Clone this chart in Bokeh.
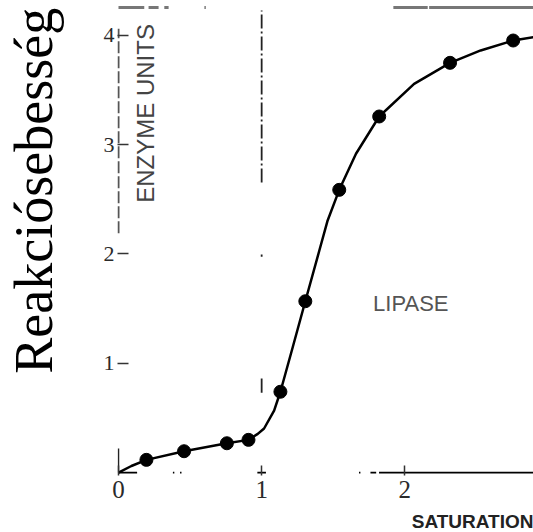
import numpy as np
from bokeh.plotting import figure
from bokeh.models import Range1d, FixedTicker, Title
from bokeh.core.properties import value
from bokeh.embed import file_html
from bokeh.resources import INLINE

# measured data points (saturation, reaction rate in enzyme units)
sat_pts = [0.195, 0.458, 0.757, 0.908, 1.131, 1.305, 1.542, 1.821, 2.316, 2.757]
rate_pts = [0.116, 0.195, 0.268, 0.299, 0.739, 1.567, 2.586, 3.257, 3.748, 3.952]

# the drawn curve
curve_sat = [0.0, 0.09, 0.195, 0.458, 0.757, 0.908, 0.973, 1.017, 1.087, 1.131,
             1.217, 1.305, 1.403, 1.461, 1.542, 1.659, 1.821, 2.065, 2.316,
             2.530, 2.757, 2.899]
curve_rate = [0.0, 0.06, 0.116, 0.195, 0.268, 0.299, 0.354, 0.403, 0.567, 0.739,
              1.146, 1.567, 2.031, 2.306, 2.586, 2.916, 3.257, 3.556, 3.748,
              3.861, 3.952, 3.983]

x_ticks = [0, 1, 2]
y_ticks = [1, 2, 3, 4]

y_label = "Reakciósebesség"
x_label = "SATURATION"
inner_y_label = "ENZYME UNITS"
inner_label = "LIPASE"

# scan fragments of the axes and marker lines (data units)
xaxis_x0 = [0.0, 0.38, 0.43, 0.97, 1.68, 1.76, 1.82]
xaxis_x1 = [0.13, 0.39, 0.44, 1.03, 1.69, 1.80, 2.90]
top_x0 = [0.0, 0.21, 0.32, 0.60, 1.92, 2.17]
top_x1 = [0.18, 0.28, 0.35, 0.61, 2.16, 2.90]
top_y = 4.254
yaxis_dash = (2.19, 4.06)
yaxis_stub = (0.0, 0.22)
vline_x = 1.0
vline_dash = (2.653, 4.227)
vline_bits_y0 = [1.975, 0.73]
vline_bits_y1 = [1.995, 0.86]

p = figure(width=533, height=532, output_backend="svg", toolbar_location=None,
           title=None, x_range=Range1d(-0.007, 2.899), y_range=Range1d(-0.027, 4.318),
           min_border_left=116, min_border_right=0, min_border_top=0,
           min_border_bottom=57)
p.outline_line_color = None
p.grid.visible = False
p.background_fill_color = "white"
p.border_fill_color = "white"

xax = p.xaxis[0]
yax = p.yaxis[0]
xax.ticker = FixedTicker(ticks=x_ticks)
yax.ticker = FixedTicker(ticks=y_ticks)
for ax in (xax, yax):
    ax.axis_line_color = None
    ax.major_tick_out = 0
    ax.minor_tick_line_color = None
    ax.major_tick_line_color = "#333333"
    ax.major_tick_line_width = 1.5
    ax.major_label_text_font = "Liberation Sans Narrow"
    ax.major_label_text_color = "#2a2a2a"
xax.major_tick_in = 10
yax.major_tick_in = 11
xax.major_label_text_font_size = "25px"
yax.major_label_text_font_size = "22px"
xax.major_label_standoff = 5
yax.major_label_standoff = 3

# y-axis label: the label sits above the axis centre; non-breaking padding
# before it lifts the visible words to where the reference shows them
yax.axis_label = "\u00a0" * 7 + y_label
yax.axis_label_text_font = "Liberation Serif"
yax.axis_label_text_font_size = "54px"
yax.axis_label_text_font_style = "normal"
yax.axis_label_text_color = "black"
yax.axis_label_standoff = 37

# small blank spacer under the x tick labels, then the right-aligned axis title
xax.axis_label = "\u00a0"
xax.axis_label_text_font_size = "1px"
xax.axis_label_standoff = 4
p.add_layout(Title(text=x_label, align="right", text_font="Liberation Sans",
                   text_font_size="19px", text_font_style="bold",
                   text_color="#222222", standoff=0), "below")

# axis fragments
p.segment(x0=xaxis_x0, y0=[0] * len(xaxis_x0), x1=xaxis_x1, y1=[0] * len(xaxis_x1),
          line_color="black", line_width=1.8)
p.segment(x0=[0], y0=[yaxis_dash[0]], x1=[0], y1=[yaxis_dash[1]],
          line_color="#555555", line_width=2, line_dash="12 3")
p.segment(x0=[0], y0=[yaxis_stub[0]], x1=[0], y1=[yaxis_stub[1]],
          line_color="#222222", line_width=1.5)
p.segment(x0=top_x0, y0=[top_y] * len(top_x0), x1=top_x1, y1=[top_y] * len(top_x1),
          line_color="#777777", line_width=3)
p.segment(x0=[vline_x], y0=[vline_dash[0]], x1=[vline_x], y1=[vline_dash[1]],
          line_color="#222222", line_width=1.8, line_dash="14 3 2 3")
p.segment(x0=[vline_x] * 2, y0=vline_bits_y0, x1=[vline_x] * 2, y1=vline_bits_y1,
          line_color="#222222", line_width=1.8)

# curve and points
p.line(curve_sat, curve_rate, line_color="black", line_width=2.5, line_join="round")
p.scatter(sat_pts, rate_pts, size=13, fill_color="black", line_color="black")

# inner texts
p.text(x=[0.188], y=[3.285], text=[inner_y_label], angle=np.pi / 2,
       text_align="center", text_baseline="middle",
       text_font=value("Liberation Sans"), text_font_size="24px", text_color="#444444")
p.text(x=[2.042], y=[1.546], text=[inner_label], text_align="center",
       text_baseline="middle", text_font=value("Liberation Sans"),
       text_font_size="22px", text_color="#555555")

open("out.html", "w").write(file_html(p, INLINE))
